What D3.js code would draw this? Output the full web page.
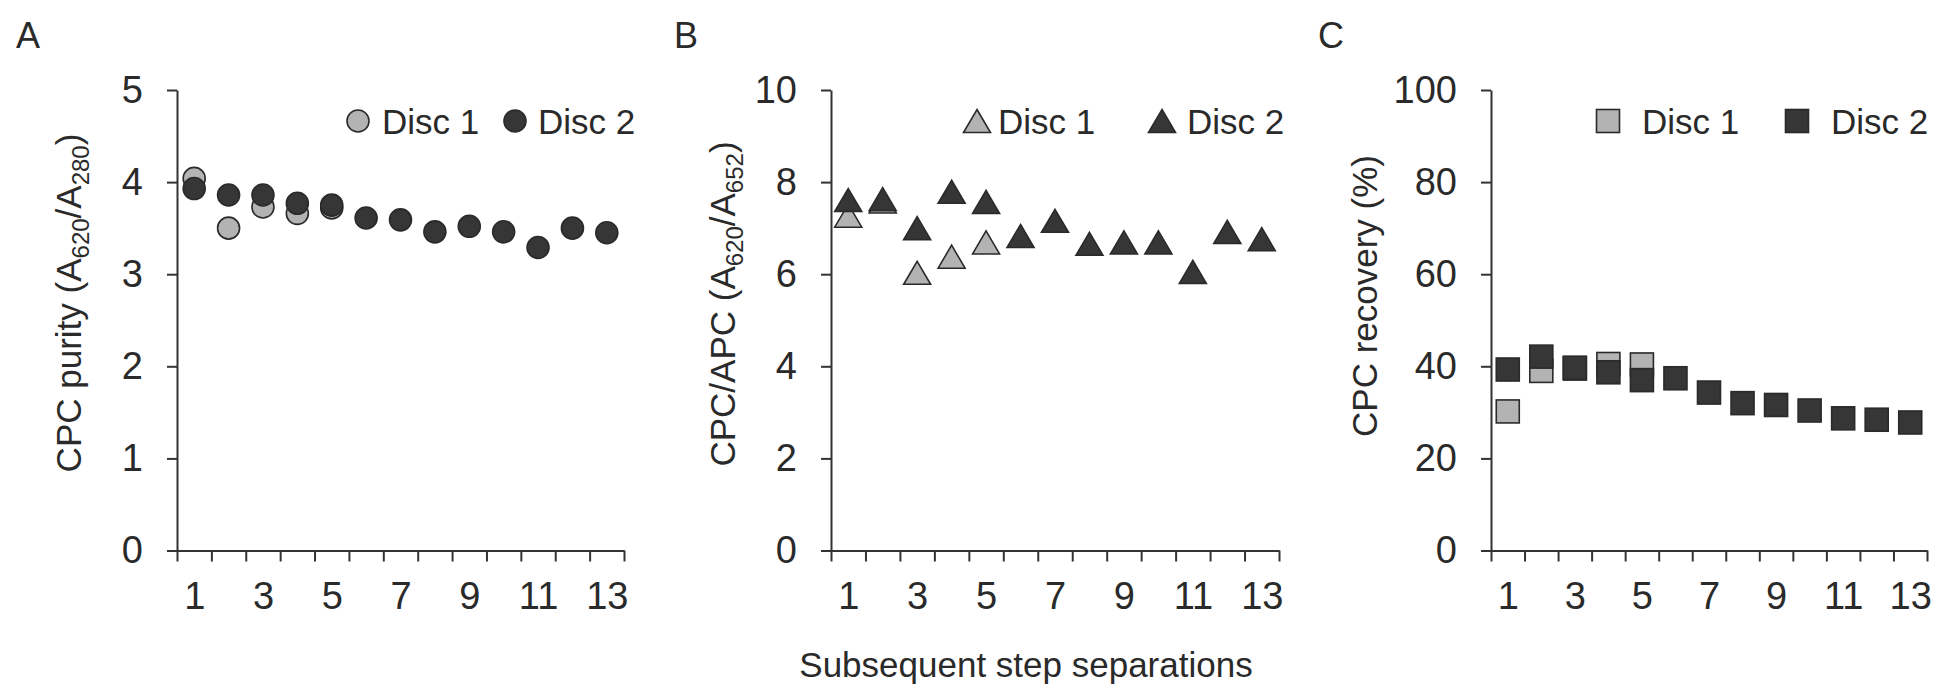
<html>
<head>
<script src="https://d3js.org/d3.v7.min.js"></script>
<style>
body { margin: 0; background: #fff; }
svg { font-family: "Liberation Sans", Arial, sans-serif; }
.axis path, .axis line { stroke: #333; stroke-width: 2px; }
.axis text { fill: #2a2a2a; font-size: 38px; }
</style>
</head>
<body>
<svg width="1942" height="693"></svg>
<script>
// values
var steps = [1, 2, 3, 4, 5, 6, 7, 8, 9, 10, 11, 12, 13];
var stepLabels = [1, 3, 5, 7, 9, 11, 13];
var seriesNames = ["Disc 1", "Disc 2"];

var purityDisc1 = [4.04, 3.50, 3.73, 3.66, 3.72];
var purityDisc2 = [3.93, 3.86, 3.86, 3.77, 3.75, 3.61, 3.59, 3.46, 3.52, 3.46, 3.29, 3.50, 3.45];

var ratioDisc1 = [7.27, 7.58, 6.03, 6.38, 6.69];
var ratioDisc2 = [7.61, 7.63, 7.00, 7.79, 7.57, 6.83, 7.16, 6.66, 6.69, 6.69, 6.05, 6.92, 6.76];

var recoveryDisc1 = [30.2, 39.0, 39.5, 40.5, 40.4];
var recoveryDisc2 = [39.3, 42.1, 39.7, 38.7, 37.0, 37.4, 34.3, 32.0, 31.6, 30.4, 28.7, 28.4, 27.8];

var purityTicks = [0, 1, 2, 3, 4, 5];
var ratioTicks = [0, 2, 4, 6, 8, 10];
var recoveryTicks = [0, 20, 40, 60, 80, 100];

var light = "#b3b3b3", dark = "#363636", edge = "#2a2a2a";

var svg = d3.select("svg");

var panels = [
  {letter: "A", lx: 16, x0: 177, x1: 624, max: 5, ticks: purityTicks,
   d1: purityDisc1, d2: purityDisc2, shape: "circle",
   title: ["CPC purity (A", "620", "/A", "280", ")"], tx: 81, ty: 303,
   leg: [358, 382, 515, 538]},
  {letter: "B", lx: 674, x0: 831, x1: 1279, max: 10, ticks: ratioTicks,
   d1: ratioDisc1, d2: ratioDisc2, shape: "triangle",
   title: ["CPC/APC (A", "620", "/A", "652", ")"], tx: 735, ty: 304,
   leg: [977, 998, 1162, 1187]},
  {letter: "C", lx: 1318, x0: 1491, x1: 1927, max: 100, ticks: recoveryTicks,
   d1: recoveryDisc1, d2: recoveryDisc2, shape: "square",
   title: ["CPC recovery (%)"], tx: 1377, ty: 296,
   leg: [1608, 1642, 1797, 1831]}
];

var yBottom = 550.5, yTop = 90;

function marker(sel, shape, fill) {
  if (shape == "circle") {
    sel.append("circle").attr("r", 11);
  } else if (shape == "triangle") {
    sel.append("path").attr("d", "M0,-11.5L13.5,11.5L-13.5,11.5Z");
  } else {
    sel.append("rect").attr("x", -11.5).attr("y", -11.5).attr("width", 23).attr("height", 23);
  }
  sel.selectAll("circle,path,rect")
    .attr("fill", fill).attr("stroke", edge).attr("stroke-width", 1.6);
}

panels.forEach(function(p) {
  var x = d3.scaleLinear().domain([0.5, 13.5]).range([p.x0, p.x1]);
  var y = d3.scaleLinear().domain([0, p.max]).range([yBottom, yTop]);
  var g = svg.append("g");

  g.append("text").attr("x", p.lx).attr("y", 48)
    .attr("font-size", 36).attr("fill", "#2a2a2a").text(p.letter);

  // boundary ticks on the category axis
  g.append("g").attr("class", "axis")
    .attr("transform", "translate(0," + yBottom + ")")
    .call(d3.axisBottom(x).tickValues(d3.range(0.5, 14, 1)).tickFormat("").tickSize(11).tickSizeOuter(0))
    .attr("font-size", null).attr("font-family", null);

  var lab = g.append("g").attr("class", "axis")
    .attr("transform", "translate(0," + yBottom + ")")
    .call(d3.axisBottom(x).tickValues(stepLabels).tickSize(0).tickPadding(32))
    .attr("font-size", null).attr("font-family", null);
  lab.select(".domain").remove();

  g.append("g").attr("class", "axis")
    .attr("transform", "translate(" + p.x0 + ",0)")
    .call(d3.axisLeft(y).tickValues(p.ticks).tickFormat(d3.format("d"))
      .tickSize(10).tickSizeOuter(0).tickPadding(24))
    .attr("font-size", null).attr("font-family", null);

  // y title
  var t = g.append("text")
    .attr("transform", "translate(" + p.tx + "," + p.ty + ") rotate(-90)")
    .attr("text-anchor", "middle").attr("font-size", 35).attr("fill", "#2a2a2a");
  p.title.forEach(function(s, i) {
    var ts = t.append("tspan").text(s);
    if (i % 2 == 1) ts.attr("font-size", 24).attr("dy", 8);
    else if (i > 0) ts.attr("dy", -8);
  });

  // points: disc 1 underneath, disc 2 on top
  [[p.d1, light], [p.d2, dark]].forEach(function(s) {
    g.selectAll(null).data(s[0]).enter().append("g")
      .attr("transform", function(d, i) { return "translate(" + x(steps[i]) + "," + y(d) + ")"; })
      .each(function() { marker(d3.select(this), p.shape, s[1]); });
  });

  // legend
  [[p.leg[0], p.leg[1], light], [p.leg[2], p.leg[3], dark]].forEach(function(l, i) {
    var lg = g.append("g").attr("transform", "translate(" + l[0] + ",121)");
    marker(lg, p.shape, l[2]);
    g.append("text").attr("x", l[1]).attr("y", 134).attr("font-size", 35)
      .attr("fill", "#2a2a2a").text(seriesNames[i]);
  });
});

svg.append("text").attr("x", 1026).attr("y", 677).attr("text-anchor", "middle")
  .attr("font-size", 35).attr("fill", "#2a2a2a").text("Subsequent step separations");
</script>
</body>
</html>
